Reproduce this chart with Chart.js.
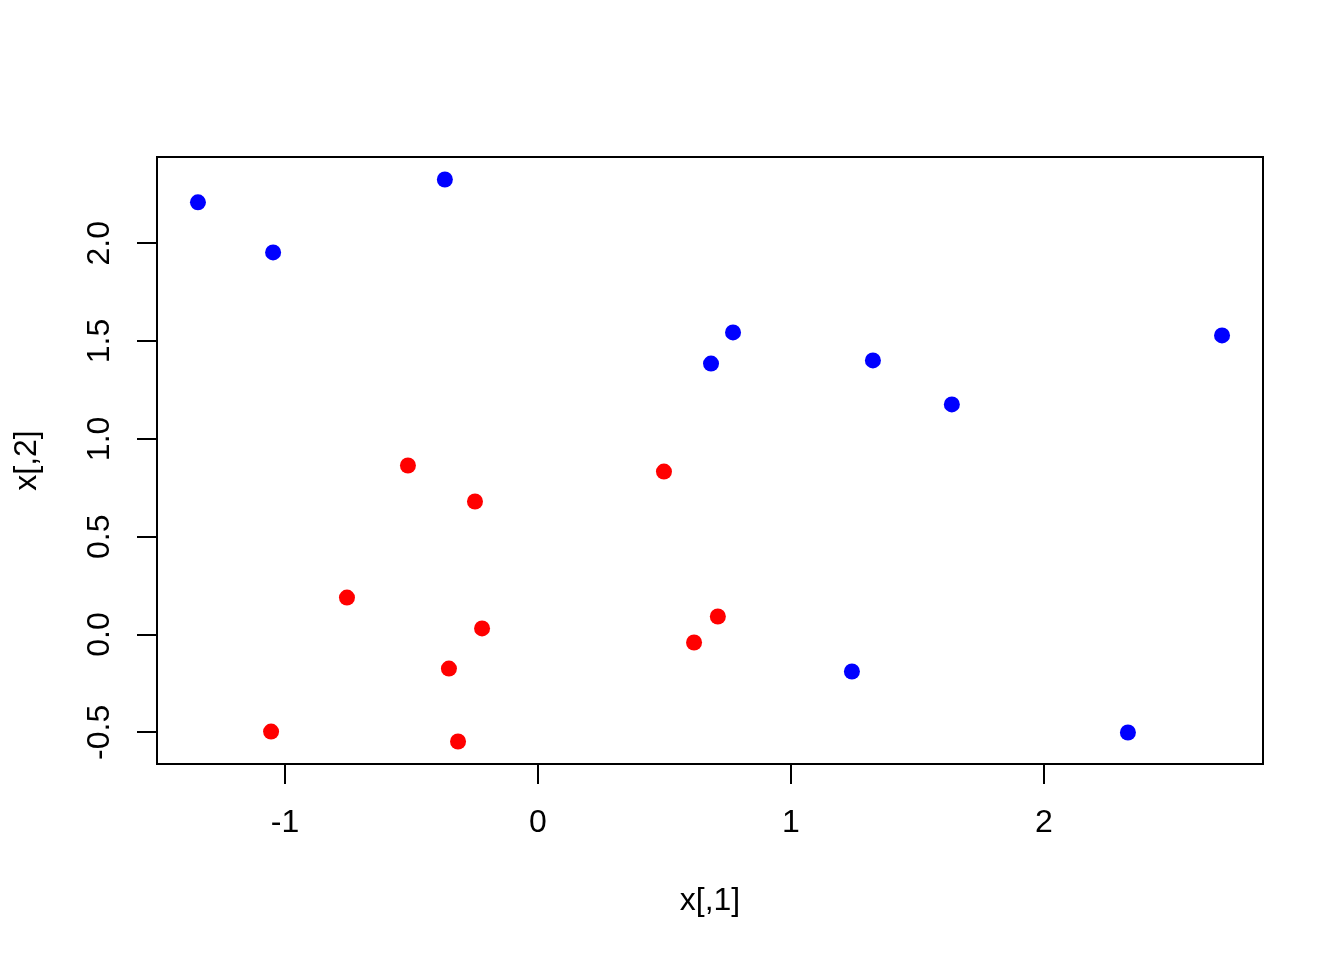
<!DOCTYPE html>
<html>
<head>
<meta charset="utf-8">
<title>x[,1] vs x[,2]</title>
<script src="https://cdn.jsdelivr.net/npm/chart.js@4"></script>
<style>
    html, body { margin: 0; padding: 0; background: #fff; }
    #plot { display: block; }
</style>
</head>
<body>
<canvas id="plot" width="1344" height="960"></canvas>
<script>
// points
const blueX = [-1.344, -1.047, -0.368, 0.771, 0.684, 1.324, 1.636, 2.704, 1.241, 2.332];
const blueY = [2.209, 1.953, 2.326, 1.544, 1.385, 1.401, 1.176, 1.529, -0.189, -0.501];
const redX = [-0.514, -0.249, 0.498, -0.755, -0.221, -0.352, -1.055, -0.316, 0.617, 0.711];
const redY = [0.864, 0.680, 0.833, 0.189, 0.031, -0.174, -0.496, -0.547, -0.041, 0.092];

// axis ticks
const xTicks = [-1, 0, 1, 2];
const yTicks = [-0.5, 0, 0.5, 1, 1.5, 2];
const xTickLabels = ['-1', '0', '1', '2'];
const yTickLabels = ['-0.5', '0.0', '0.5', '1.0', '1.5', '2.0'];

const FONT = "'Liberation Sans', Arial, Helvetica, sans-serif";

// R style range: data range stretched by 4% each side
function rRange(vals) {
    const lo = Math.min(...vals), hi = Math.max(...vals);
    const pad = (hi - lo) * 0.04;
    return [lo - pad, hi + pad];
}
const [xMin, xMax] = rRange(blueX.concat(redX));
const [yMin, yMax] = rRange(blueY.concat(redY));

function toPoints(xs, ys) {
    return xs.map((x, i) => ({ x: x, y: ys[i] }));
}

// box around the plot and rotated y tick labels
const rFrame = {
    id: 'rFrame',
    afterDraw(chart) {
        const ctx = chart.ctx;
        const a = chart.chartArea;
        ctx.save();
        ctx.strokeStyle = '#000';
        ctx.lineWidth = 2;
        ctx.strokeRect(a.left, a.top, a.right - a.left, a.bottom - a.top);

        const ys = chart.scales.y;
        ctx.fillStyle = '#000';
        ctx.font = '32px ' + FONT;
        ctx.textAlign = 'center';
        ctx.textBaseline = 'middle';
        ys.ticks.forEach(t => {
            const py = ys.getPixelForValue(t.value);
            const idx = yTicks.indexOf(t.value);
            ctx.save();
            ctx.translate(100, py);
            ctx.rotate(-Math.PI / 2);
            ctx.fillText(idx >= 0 ? yTickLabels[idx] : String(t.value), 0, 0);
            ctx.restore();
        });
        ctx.restore();
    }
};

new Chart(document.getElementById('plot'), {
    type: 'scatter',
    data: {
        datasets: [{
            label: 'blue',
            data: toPoints(blueX, blueY),
            backgroundColor: '#0000ff',
            borderColor: '#0000ff',
            pointRadius: 8,
            borderWidth: 0
        }, {
            label: 'red',
            data: toPoints(redX, redY),
            backgroundColor: '#ff0000',
            borderColor: '#ff0000',
            pointRadius: 8,
            borderWidth: 0
        }]
    },
    options: {
        responsive: false,
        animation: false,
        layout: {
            padding: { left: 0, top: 157, right: 81, bottom: 0 }
        },
        plugins: {
            legend: { display: false },
            tooltip: { enabled: false }
        },
        scales: {
            x: {
                type: 'linear',
                min: xMin,
                max: xMax,
                afterBuildTicks: scale => {
                    scale.ticks = xTicks.map(v => ({ value: v }));
                },
                afterFit: scale => { scale.height = 196; },
                border: { display: false },
                grid: {
                    drawOnChartArea: false,
                    drawTicks: true,
                    tickLength: 20,
                    color: '#000',
                    lineWidth: 2
                },
                ticks: {
                    color: '#000',
                    font: { family: FONT, size: 32 },
                    padding: 20,
                    maxRotation: 0,
                    callback: function(value) {
                        const idx = xTicks.indexOf(value);
                        return idx >= 0 ? xTickLabels[idx] : value;
                    }
                },
                title: {
                    display: true,
                    text: 'x[,1]',
                    color: '#000',
                    font: { family: FONT, size: 32 },
                    padding: { top: 0, bottom: 40 }
                }
            },
            y: {
                type: 'linear',
                min: yMin,
                max: yMax,
                afterBuildTicks: scale => {
                    scale.ticks = yTicks.map(v => ({ value: v }));
                },
                afterFit: scale => { scale.width = 157; },
                border: { display: false },
                grid: {
                    drawOnChartArea: false,
                    drawTicks: true,
                    tickLength: 20,
                    color: '#000',
                    lineWidth: 2
                },
                ticks: {
                    color: 'rgba(0,0,0,0)',
                    font: { family: FONT, size: 32 }
                },
                title: {
                    display: true,
                    text: 'x[,2]',
                    color: '#000',
                    font: { family: FONT, size: 32 },
                    padding: { top: 8, bottom: 0 }
                }
            }
        }
    },
    plugins: [rFrame]
});
</script>
</body>
</html>
